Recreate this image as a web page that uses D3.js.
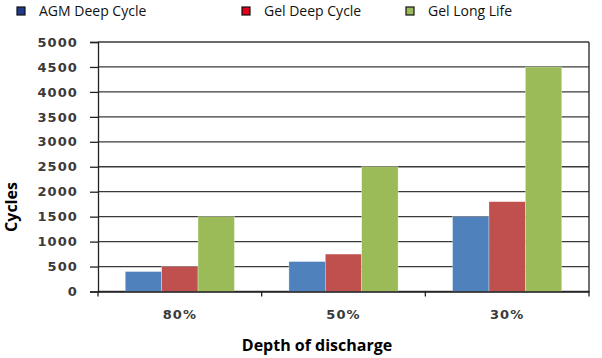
<!DOCTYPE html>
<html><head><meta charset="utf-8">
<script src="https://cdn.jsdelivr.net/npm/d3@7/dist/d3.min.js"></script>
<style>body{margin:0;background:#fff}svg{display:block}</style>
</head><body><svg id="c" width="602" height="358"></svg>
<script>
const categories = ["80%", "50%", "30%"];
const seriesNames = ["AGM Deep Cycle", "Gel Deep Cycle", "Gel Long Life"];
const agmDeepCycle = [400, 600, 1500];
const gelDeepCycle = [500, 750, 1800];
const gelLongLife = [1500, 2500, 4500];
const yTicks = [0, 500, 1000, 1500, 2000, 2500, 3000, 3500, 4000, 4500, 5000];

const series = [agmDeepCycle, gelDeepCycle, gelLongLife];
const barColors = ["#4F81BD", "#C0504D", "#9BBB59"];
const legendColors = ["#1F3A8A", "#E0001B", "#9BBB59"];

const svg = d3.select("#c");
const L = 98, R = 589, T = 42, B = 291.5;
const x = d3.scaleBand().domain(categories).range([L, R]).paddingInner(0.333).paddingOuter(0.1665);
const xs = d3.scaleBand().domain(d3.range(series.length)).range([0, x.bandwidth()]);
const y = d3.scaleLinear().domain([0, 5000]).range([B, T]);

// gridlines
svg.append("g").selectAll("line").data(yTicks).join("line")
  .attr("x1", L).attr("x2", R).attr("y1", d => y(d)).attr("y2", d => y(d))
  .attr("stroke", "#3a3a3a").attr("stroke-width", 1.3);

// bars
series.forEach((s, i) => {
  svg.append("g").selectAll("rect").data(s).join("rect")
    .attr("x", (d, j) => x(categories[j]) + xs(i))
    .attr("width", xs.bandwidth())
    .attr("y", d => y(d))
    .attr("height", d => B - y(d))
    .attr("fill", barColors[i])
    .attr("stroke", "rgba(255,255,255,0.5)").attr("stroke-width", 0.6);
});

// right border
svg.append("line").attr("x1", R).attr("x2", R).attr("y1", T).attr("y2", B + 5)
  .attr("stroke", "#222").attr("stroke-width", 1.3);

const tickFont = "DejaVu Sans, sans-serif";
// y axis
const yAxis = d3.axisLeft(y).tickValues(yTicks).tickSize(8).tickPadding(12).tickFormat(d3.format("d"));
const ga = svg.append("g").attr("transform", `translate(${L},0)`).call(yAxis);
ga.select(".domain").attr("stroke", "#222").attr("stroke-width", 1.3);
ga.selectAll(".tick line").attr("stroke", "#222").attr("stroke-width", 1.3);
ga.selectAll("text").attr("font-family", tickFont).attr("font-size", 13)
  .attr("font-weight", 700).attr("fill", "#3a3a3a").attr("letter-spacing", 1.1);

// x axis
const xAxis = d3.axisBottom(x).tickSize(0).tickPadding(18);
const gx = svg.append("g").attr("transform", `translate(0,${B})`).call(xAxis);
gx.select(".domain").attr("stroke", "#222").attr("stroke-width", 1.3);
gx.selectAll("text").attr("font-family", tickFont).attr("font-size", 13)
  .attr("font-weight", 700).attr("fill", "#3a3a3a").attr("letter-spacing", 1.1);
// category separators
const seps = [L, ...categories.slice(1).map(c => x(c) - x.step() * x.paddingInner() / 2)];
svg.append("g").selectAll("line").data(seps).join("line")
  .attr("x1", d => d).attr("x2", d => d).attr("y1", B).attr("y2", B + 5)
  .attr("stroke", "#222").attr("stroke-width", 1.3);

// axis titles
svg.append("text").attr("x", 317).attr("y", 351).attr("text-anchor", "middle")
  .attr("font-family", "Open Sans, sans-serif").attr("font-size", 16).attr("font-weight", 700)
  .attr("fill", "#000").text("Depth of discharge");
svg.append("text").attr("transform", "translate(17,207) rotate(-90)").attr("text-anchor", "middle")
  .attr("font-family", "Open Sans, sans-serif").attr("font-size", 16).attr("font-weight", 700)
  .attr("fill", "#000").text("Cycles");

// legend
const legX = [17, 242, 406];
seriesNames.forEach((n, i) => {
  svg.append("rect").attr("x", legX[i]).attr("y", 7).attr("width", 8).attr("height", 8)
    .attr("fill", legendColors[i]).attr("stroke", "#111").attr("stroke-width", 1.2);
  svg.append("text").attr("x", legX[i] + 22).attr("y", 16)
    .attr("font-family", "Open Sans, sans-serif").attr("font-size", 14).attr("fill", "#111").text(n);
});
</script></body></html>
